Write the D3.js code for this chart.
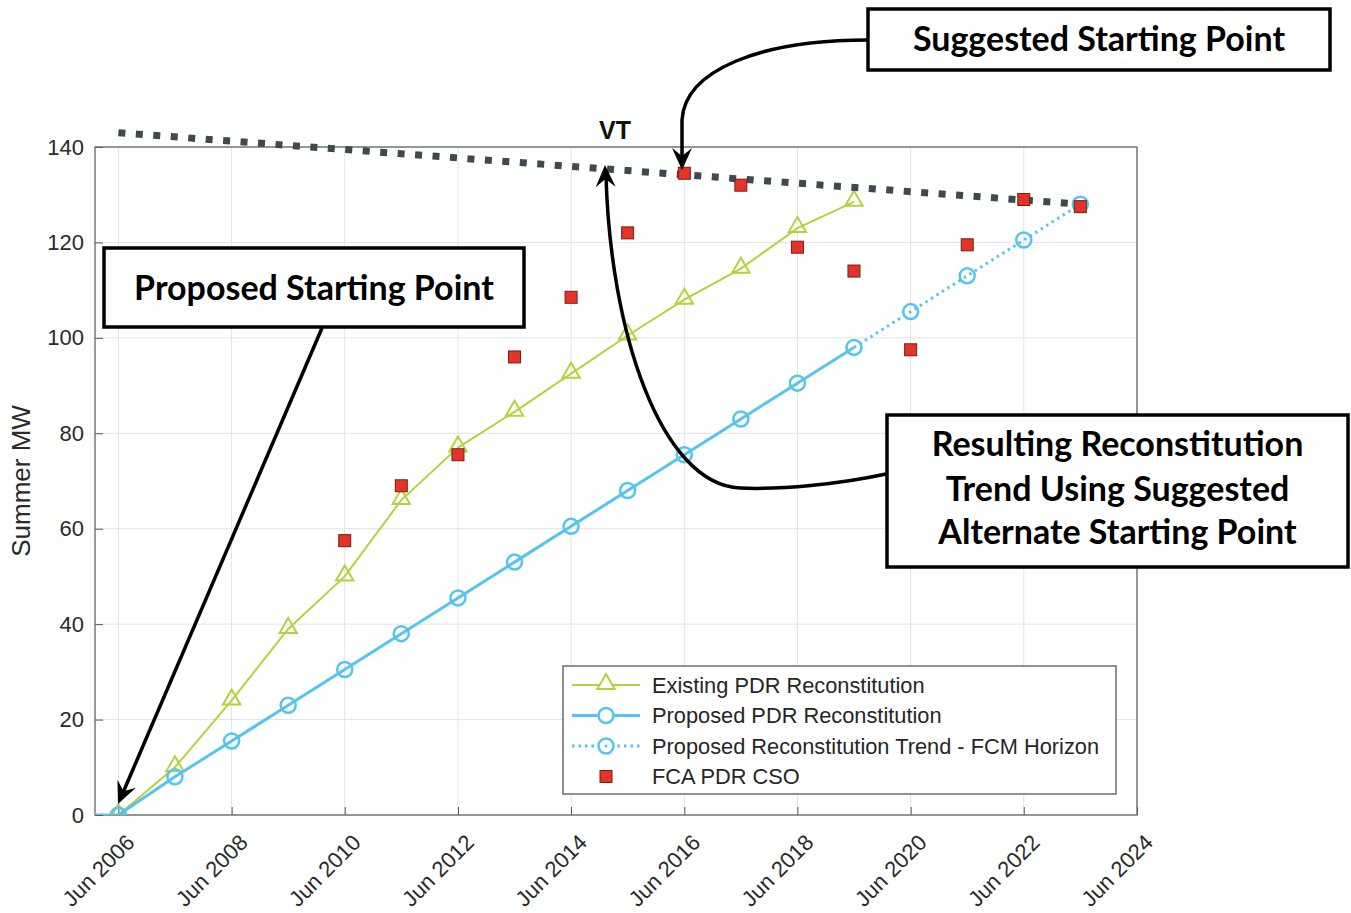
<!DOCTYPE html>
<html>
<head>
<meta charset="utf-8">
<script src="https://cdn.jsdelivr.net/npm/d3@7"></script>
<style>
  body { margin: 0; background: #fff; }
  svg { display: block; }
</style>
</head>
<body>
<div id="chart"></div>
<script>
// data
const years = [2005, 2006, 2007, 2008, 2009, 2010, 2011, 2012, 2013, 2014, 2015, 2016, 2017, 2018, 2019];
const existingPDR = [0, 0, 10, 24, 39, 50, 66, 77, 84.5, 92.5, 100.5, 108, 114.5, 123, 128.5];
const proposedPDR = [0, 0, 8, 15.5, 23, 30.5, 38, 45.5, 53, 60.5, 68, 75.5, 83, 90.5, 98];

const trendYears = [2019, 2020, 2021, 2022, 2023];
const trendValues = [98, 105.5, 113, 120.5, 128];

const csoYears = [2010, 2011, 2012, 2013, 2014, 2015, 2016, 2017, 2018, 2019, 2020, 2021, 2022, 2023];
const csoValues = [57.5, 69, 75.5, 96, 108.5, 122, 134.5, 132, 119, 114, 97.5, 119.5, 129, 127.5];

const vtYears = [2006, 2023];
const vtValues = [143, 128];

const xTickYears = [2006, 2008, 2010, 2012, 2014, 2016, 2018, 2020, 2022, 2024];
const yTicks = [0, 20, 40, 60, 80, 100, 120, 140];

const legendLabels = ["Existing PDR Reconstitution", "Proposed PDR Reconstitution",
  "Proposed Reconstitution Trend - FCM Horizon", "FCA PDR CSO"];

const green = "#b6d13e", blue = "#55c4ee", red = "#e3342a", vtColor = "#3e4a4f";

let width = 1351, height = 913;
let pLeft = 95, pRight = 1137, pTop = 147, pBottom = 815;
let axisFont = "Liberation Sans, Arial, sans-serif";

let jun = y => new Date(y, 5, 1);

let svg = d3.select("#chart").append("svg")
  .attr("width", width)
  .attr("height", height);

let x = d3.scaleTime()
  .domain([new Date(2006, 0, 1), jun(2024)])
  .range([pLeft, pRight]);

let y = d3.scaleLinear()
  .domain([0, 140])
  .range([pBottom, pTop]);

let defs = svg.append("defs");
defs.append("clipPath").attr("id", "plot")
  .append("rect").attr("x", pLeft).attr("y", pTop)
  .attr("width", pRight - pLeft).attr("height", pBottom - pTop);

// grid
let grid = svg.append("g");
grid.selectAll(".vg").data(xTickYears).join("line")
  .attr("x1", d => x(jun(d))).attr("x2", d => x(jun(d)))
  .attr("y1", pTop).attr("y2", pBottom)
  .attr("stroke", "#e3e3e3").attr("stroke-width", 1);
grid.selectAll(".hg").data(yTicks).join("line")
  .attr("x1", pLeft).attr("x2", pRight)
  .attr("y1", d => y(d)).attr("y2", d => y(d))
  .attr("stroke", "#e3e3e3").attr("stroke-width", 1);

// axes (ticks inside, matlab style)
let xAxis = svg.append("g")
  .attr("transform", `translate(0,${pBottom})`)
  .call(d3.axisBottom(x).tickValues(xTickYears.map(jun)).tickSize(-8).tickFormat(d3.timeFormat("Jun %Y")));
xAxis.select(".domain").remove();
xAxis.selectAll("line").attr("stroke", "#555");
xAxis.selectAll("text")
  .attr("font-family", axisFont)
  .attr("font-size", 22)
  .attr("fill", "#2a2a2a")
  .attr("text-anchor", "end")
  .attr("transform", "translate(6,18) rotate(-45)")
  .attr("dy", "0.7em")
  .attr("y", 0);

let yAxis = svg.append("g")
  .attr("transform", `translate(${pLeft},0)`)
  .call(d3.axisLeft(y).tickValues(yTicks).tickSize(-8));
yAxis.select(".domain").remove();
yAxis.selectAll("line").attr("stroke", "#555");
yAxis.selectAll("text")
  .attr("font-family", axisFont)
  .attr("font-size", 22)
  .attr("fill", "#2a2a2a")
  .attr("x", -11);

svg.append("rect")
  .attr("x", pLeft).attr("y", pTop)
  .attr("width", pRight - pLeft).attr("height", pBottom - pTop)
  .attr("fill", "none").attr("stroke", "#666").attr("stroke-width", 1.3);

svg.append("text")
  .attr("transform", `translate(30,${(pTop + pBottom) / 2}) rotate(-90)`)
  .attr("text-anchor", "middle")
  .attr("font-family", axisFont)
  .attr("font-size", 26)
  .attr("fill", "#2a2a2a")
  .text("Summer MW");

let line = d3.line().x(d => x(jun(d[0]))).y(d => y(d[1]));
let plot = svg.append("g").attr("clip-path", "url(#plot)");

let tri = d3.symbol().type(d3.symbolTriangle).size(130);

// existing PDR
let exData = years.map((yr, i) => [yr, existingPDR[i]]);
plot.append("path").attr("d", line(exData))
  .attr("fill", "none").attr("stroke", green).attr("stroke-width", 2);
plot.selectAll(".tri").data(exData).join("path")
  .attr("d", tri)
  .attr("transform", d => `translate(${x(jun(d[0]))},${y(d[1]) - 1})`)
  .attr("fill", "none").attr("stroke", green).attr("stroke-width", 2);

// proposed PDR
let prData = years.map((yr, i) => [yr, proposedPDR[i]]);
plot.append("path").attr("d", line(prData))
  .attr("fill", "none").attr("stroke", blue).attr("stroke-width", 3);

// trend
let trData = trendYears.map((yr, i) => [yr, trendValues[i]]);
plot.append("path").attr("d", line(trData))
  .attr("fill", "none").attr("stroke", blue).attr("stroke-width", 3)
  .attr("stroke-dasharray", "2.5,4");

plot.selectAll(".circ").data(prData.concat(trData.slice(1))).join("circle")
  .attr("cx", d => x(jun(d[0]))).attr("cy", d => y(d[1])).attr("r", 7.5)
  .attr("fill", "none").attr("stroke", blue).attr("stroke-width", 2.5);

// VT dotted line
let vtData = vtYears.map((yr, i) => [yr, vtValues[i]]);
svg.append("path").attr("d", line(vtData))
  .attr("fill", "none").attr("stroke", vtColor).attr("stroke-width", 7)
  .attr("stroke-dasharray", "7,10.5");

// FCA PDR CSO
svg.selectAll(".sq").data(csoYears.map((yr, i) => [yr, csoValues[i]])).join("rect")
  .attr("x", d => x(jun(d[0])) - 6).attr("y", d => y(d[1]) - 6)
  .attr("width", 12).attr("height", 12)
  .attr("fill", red).attr("stroke", "#7a1c14").attr("stroke-width", 1);

svg.append("text")
  .attr("x", 615).attr("y", 139)
  .attr("text-anchor", "middle")
  .attr("font-family", axisFont)
  .attr("font-weight", "bold")
  .attr("font-size", 25)
  .attr("fill", "#111")
  .text("VT");

// legend
let ly = i => 19 + i * 30.5;
let lg = svg.append("g").attr("transform", "translate(563,666)");
lg.append("rect").attr("width", 553).attr("height", 128)
  .attr("fill", "#fff").attr("stroke", "#555").attr("stroke-width", 1.3);
lg.selectAll(".lt").data(legendLabels).join("text")
  .attr("x", 89).attr("y", (d, i) => ly(i))
  .attr("dy", "0.35em")
  .attr("font-family", axisFont)
  .attr("font-size", 21.8)
  .attr("fill", "#262626")
  .text(d => d);
lg.append("line").attr("x1", 9).attr("x2", 77).attr("y1", ly(0)).attr("y2", ly(0))
  .attr("stroke", green).attr("stroke-width", 2);
lg.append("path").attr("d", tri).attr("transform", `translate(43,${ly(0) - 1})`)
  .attr("fill", "#fff").attr("stroke", green).attr("stroke-width", 2);
lg.append("line").attr("x1", 9).attr("x2", 77).attr("y1", ly(1)).attr("y2", ly(1))
  .attr("stroke", blue).attr("stroke-width", 3);
lg.append("line").attr("x1", 9).attr("x2", 77).attr("y1", ly(2)).attr("y2", ly(2))
  .attr("stroke", blue).attr("stroke-width", 3).attr("stroke-dasharray", "2.5,4");
lg.selectAll(".lc").data([1, 2]).join("circle")
  .attr("cx", 43).attr("cy", d => ly(d)).attr("r", 7.5)
  .attr("fill", "#fff").attr("stroke", blue).attr("stroke-width", 2.5);
lg.append("circle").attr("cx", 43).attr("cy", ly(2)).attr("r", 1.5).attr("fill", blue);
lg.append("rect").attr("x", 37).attr("y", ly(3) - 6).attr("width", 12).attr("height", 12)
  .attr("fill", red).attr("stroke", "#7a1c14");

// annotation arrows
let arrows = svg.append("g").attr("fill", "none").attr("stroke", "#000").attr("stroke-width", 3.5);
arrows.append("path")
  .attr("d", "M868,40 C760,40 685,70 682,120 L682,160");
arrows.append("path")
  .attr("d", "M322,328 L122,795");
arrows.append("path")
  .attr("d", "M886,474 C840,484 780,490 740,488 C660,484 610,330 606,175");

let heads = [
  {tip: [682, 170], dir: [0, 1]},
  {tip: [118, 804], dir: [-0.394, 0.919]},
  {tip: [605, 165], dir: [-0.03, -1]}
];
svg.selectAll(".ah").data(heads).join("path")
  .attr("d", d => {
    let [tx, ty] = d.tip, [dx, dy] = d.dir;
    let L = 22, W = 10, n = 14;
    let bx = tx - dx * L, by = ty - dy * L;
    let nx = tx - dx * n, ny = ty - dy * n;
    let px = -dy, py = dx;
    return `M${tx},${ty} L${bx + px * W},${by + py * W} L${nx},${ny} L${bx - px * W},${by - py * W} Z`;
  })
  .attr("fill", "#000");

// boxes
let font = "Lato, Open Sans, sans-serif";
function box(x0, y0, w, h, lines, lineY) {
  let g = svg.append("g");
  g.append("rect").attr("x", x0).attr("y", y0).attr("width", w).attr("height", h)
    .attr("fill", "#fff").attr("stroke", "#000").attr("stroke-width", 3.5);
  g.selectAll("text").data(lines).join("text")
    .attr("x", x0 + w / 2).attr("y", (d, i) => lineY[i])
    .attr("text-anchor", "middle")
    .attr("font-family", font)
    .attr("font-weight", 700)
    .attr("font-size", 34)
    .attr("fill", "#000")
    .text(d => d);
}
box(868, 9, 462, 61, ["Suggested Starting Point"], [51]);
box(104, 248, 420, 79, ["Proposed Starting Point"], [300]);
box(887, 415, 461, 152, ["Resulting Reconstitution", "Trend Using Suggested", "Alternate Starting Point"], [456, 501, 544]);
</script>
</body>
</html>
